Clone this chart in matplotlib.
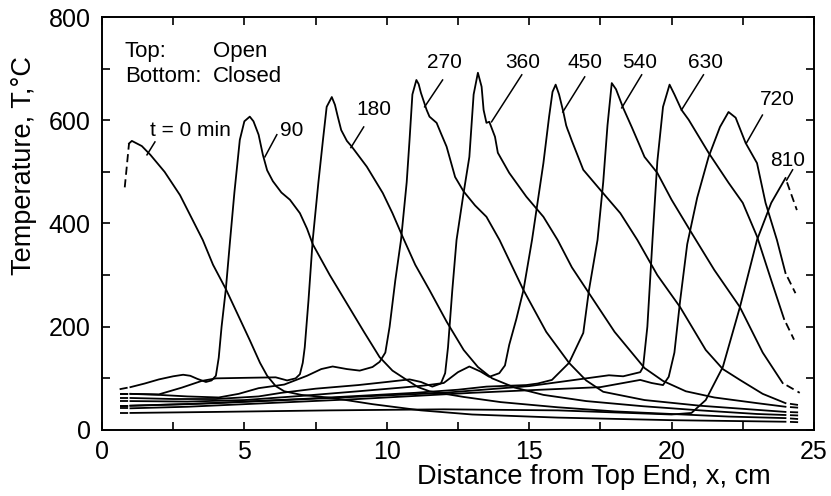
import matplotlib
matplotlib.use("Agg")
import matplotlib.pyplot as plt
from matplotlib.ticker import MultipleLocator

plt.rcParams['font.family'] = ['Liberation Sans', 'DejaVu Sans']

# ---- data ----
x_t0 = [0.80, 0.95, 1.05, 1.4, 1.7, 2.2, 2.74, 3.2, 3.54, 3.9, 4.35, 4.8, 5.19, 5.55, 5.8, 6.1, 6.4,
        7.0, 8.1, 9.5, 11.2, 13.0, 16.0, 20.0, 24.0, 24.5]
T_t0 = [470, 555, 560, 550, 533, 500, 455, 405, 368, 320, 273, 220, 174, 130, 105, 85, 75,
        68, 62, 50, 38, 30, 24, 19, 16, 15]

x_90 = [0.62, 1.0, 1.5, 2.0, 2.5, 2.85, 3.1, 3.35, 3.65, 3.85, 4.0, 4.1, 4.2, 4.35, 4.5, 4.65, 4.84,
        5.0, 5.19, 5.32, 5.5, 5.65, 5.8, 6.0, 6.3, 6.6, 6.95, 7.2, 7.4, 8.0, 8.6, 9.2, 9.75, 10.2,
        10.7, 11.1, 11.5, 12.7, 14.0, 16.0, 18.0, 20.0, 22.0, 24.0, 24.5]
T_90 = [79, 83, 90, 98, 104, 107, 105, 99, 93, 96, 105, 140, 200, 273, 368, 460, 562,
        598, 607, 598, 572, 533, 503, 482, 460, 446, 420, 390, 360, 300, 245, 190, 141, 115,
        97, 83, 75, 64, 54, 44, 36, 31, 26, 23, 21]

x_180 = [0.62, 1.0, 2.0, 2.8, 3.5, 4.0, 5.0, 6.1, 6.5, 6.8, 6.95, 7.05, 7.12, 7.25, 7.4, 7.6, 7.76,
         7.89, 8.07, 8.18, 8.28, 8.4, 8.6, 8.77, 9.3, 9.86, 10.2, 10.56, 11.0, 11.5, 12.1, 12.7,
         13.2, 13.7, 14.5, 15.5, 17.0, 19.0, 21.0, 23.0, 24.0, 24.5]
T_180 = [70, 70, 69, 82, 95, 100, 101, 102, 96, 100, 108, 130, 160, 250, 368, 480, 562,
         626, 645, 630, 607, 581, 560, 549, 510, 459, 420, 374, 320, 271, 210, 155,
         122, 100, 82, 68, 56, 46, 38, 31, 29, 28]

x_270 = [0.62, 1.0, 2.0, 3.0, 4.1, 4.8, 5.5, 6.4, 7.2, 7.7, 8.1, 8.6, 9.05, 9.5, 9.75, 9.95, 10.1,
         10.3, 10.5, 10.7, 10.8, 10.9, 11.04, 11.12, 11.2, 11.4, 11.5, 11.75, 11.9, 12.1, 12.4,
         12.7, 13.1, 13.5, 13.96, 14.8, 15.6, 16.4, 17.0, 17.6, 19.05, 21.0, 23.0, 24.0, 24.5]
T_270 = [70, 70, 68, 65, 63, 70, 81, 88, 105, 118, 123, 118, 115, 122, 132, 150, 200,
         290, 368, 480, 562, 650, 678, 670, 653, 620, 607, 595, 575, 549, 490,
         462, 435, 413, 368, 271, 190, 130, 96, 74, 58, 47, 39, 35, 34]

x_360 = [0.62, 1.0, 2.5, 4.0, 5.5, 6.3, 7.5, 9.0, 10.0, 10.8, 11.2, 11.6, 11.9, 12.05, 12.15, 12.3,
         12.45, 12.7, 12.9, 13.05, 13.2, 13.33, 13.4, 13.5, 13.6, 13.8, 13.9, 14.3, 14.9, 15.5,
         16.0, 16.5, 17.1, 18.0, 19.05, 19.7, 20.5, 21.5, 23.0, 24.0, 24.5]
T_360 = [62, 62, 60, 60, 65, 72, 80, 87, 93, 98, 93, 84, 90, 110, 160, 270,
         368, 460, 529, 650, 692, 665, 620, 595, 597, 568, 537, 498, 452, 413,
         368, 315, 265, 190, 120, 95, 75, 63, 52, 45, 43]

x_450 = [0.62, 1.0, 3.0, 5.0, 7.0, 9.0, 10.5, 11.3, 12.0, 12.5, 12.9, 13.3, 13.6, 13.95, 14.15,
         14.3, 14.55, 14.8, 15.1, 15.5, 15.7, 15.82, 15.93, 16.05, 16.2, 16.3, 16.35, 16.4, 16.5,
         16.9, 17.5, 18.2, 18.8, 19.5, 20.3, 21.2, 21.8, 22.4, 23.2, 24.0, 24.5]
T_450 = [56, 56, 55, 58, 66, 75, 82, 86, 91, 112, 123, 113, 103, 110, 125,
         165, 215, 271, 368, 517, 607, 655, 669, 650, 616, 590, 582, 575, 560,
         504, 465, 420, 368, 300, 238, 155, 118, 97, 70, 52, 48]

x_540 = [0.62, 1.0, 3.0, 5.0, 7.0, 9.0, 11.0, 12.5, 13.5, 14.9, 15.3, 15.8, 16.4, 16.9, 17.1, 17.4,
         17.6, 17.75, 17.9, 18.05, 18.3, 18.6, 18.85, 19.05, 19.5, 20.0, 20.7, 21.5, 22.4, 23.2,
         23.9, 24.5]
T_540 = [47, 47, 50, 55, 60, 66, 72, 78, 84, 87, 90, 97, 130, 188, 271, 368,
         480, 590, 672, 660, 624, 587, 555, 529, 498, 446, 382, 310, 238, 150,
         91, 72]

x_630 = [0.62, 1.0, 4.0, 8.0, 12.0, 15.0, 17.0, 17.8, 18.3, 18.9, 19.0, 19.15, 19.33, 19.5, 19.7,
         19.93, 20.1, 20.35, 20.6, 21.3, 22.0, 22.5, 23.0, 23.5, 23.95, 24.3]
T_630 = [47, 47, 52, 62, 72, 85, 100, 106, 104, 112, 122, 200, 368, 520, 626,
         669, 650, 620, 601, 537, 479, 440, 375, 290, 215, 175]

x_720 = [0.62, 1.0, 3.0, 5.0, 7.0, 9.0, 11.0, 13.0, 15.0, 17.5, 18.9, 19.3, 19.7, 19.9, 20.1, 20.3,
         20.55, 20.9, 21.3, 21.7, 22.0, 22.25, 22.6, 23.0, 23.3, 23.7, 24.0, 24.35]
T_720 = [42, 42, 45, 50, 55, 60, 66, 72, 77, 83, 97, 91, 87, 103, 150, 250,
         360, 450, 529, 587, 616, 605, 556, 517, 440, 368, 304, 265]

x_810 = [0.62, 1.0, 4.0, 8.0, 12.0, 16.0, 18.0, 20.0, 20.7, 21.2, 21.8, 22.4, 23.0, 23.5, 24.0, 24.4]
T_810 = [33, 33, 35, 38, 40, 38, 34, 30, 33, 58, 122, 238, 368, 440, 488, 426]

curves = [(x_t0, T_t0), (x_90, T_90), (x_180, T_180), (x_270, T_270), (x_360, T_360),
          (x_450, T_450), (x_540, T_540), (x_630, T_630), (x_720, T_720), (x_810, T_810)]

labels = ["t = 0 min", "90", "180", "270", "360", "450", "540", "630", "720", "810"]

# ---- layout (positions only) ----
label_pos = [(3.12, 581), (6.67, 581), (9.54, 620), (12.04, 711), (14.77, 711),
             (16.95, 711), (18.88, 711), (21.19, 711), (23.72, 640), (24.07, 523)]
leader = [((1.86, 558), (1.58, 533)), ((6.14, 572), (5.72, 529)), ((9.19, 587), (8.74, 547)),
          ((11.96, 678), (11.33, 626)), ((14.74, 688), (13.68, 597)), ((16.95, 684), (16.18, 616)),
          ((18.95, 688), (18.25, 624)), ((21.12, 688), (20.35, 620)), ((23.19, 610), (22.63, 556)),
          ((24.25, 504), (24.04, 484))]

fig = plt.figure(figsize=(8.31, 4.96), dpi=100)
ax = fig.add_axes([0.1227, 0.1331, 0.8568, 0.8326])

lw = 1.3
for xs, ts in curves:
    ax.plot(xs[:2], ts[:2], color='black', lw=lw, linestyle=(0, (4.5, 2.5)),
            dash_capstyle='butt')
    ax.plot(xs[1:-1], ts[1:-1], color='black', lw=lw, solid_joinstyle='round')
    ax.plot(xs[-2:], ts[-2:], color='black', lw=lw, linestyle=(4.5, (4.5, 2.5)),
            dash_capstyle='butt')

for lab, (lx, ly), (p0, p1) in zip(labels, label_pos, leader):
    ax.text(lx, ly, lab, fontsize=15, ha='center', va='center')
    ax.plot([p0[0], p1[0]], [p0[1], p1[1]], color='black', lw=1.1)

ax.text(0.8, 733, "Top:", fontsize=16, ha='left', va='center')
ax.text(3.9, 733, "Open", fontsize=16, ha='left', va='center')
ax.text(0.8, 684, "Bottom:", fontsize=16, ha='left', va='center')
ax.text(3.9, 684, "Closed", fontsize=16, ha='left', va='center')

ax.set_xlim(0, 25)
ax.set_ylim(0, 800)
ax.xaxis.set_major_locator(MultipleLocator(5))
ax.xaxis.set_minor_locator(MultipleLocator(2.5))
ax.yaxis.set_major_locator(MultipleLocator(200))
ax.yaxis.set_minor_locator(MultipleLocator(100))
ax.tick_params(which='both', direction='in', top=True, right=True, length=6, width=1.2,
               labelsize=18)
ax.tick_params(axis='x', pad=7)
ax.tick_params(axis='y', pad=8)
for s in ax.spines.values():
    s.set_linewidth(1.4)

fig.text(0.715, 0.038, "Distance from Top End, x, cm", fontsize=19.5, ha='center', va='center')
fig.text(0.029, 0.667, "Temperature, T,\u00b0C", fontsize=19.5, ha='center', va='center', rotation=90)

fig.savefig("out.png", dpi=100)
